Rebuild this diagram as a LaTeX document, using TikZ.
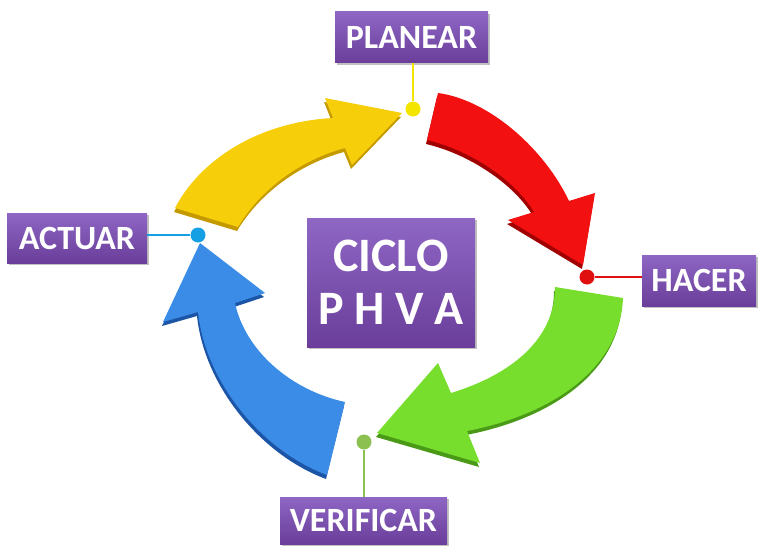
\documentclass[tikz,border=0pt]{standalone}
\usepackage{fontspec}
\setmainfont{Carlito}
\usetikzlibrary{shadows}

\definecolor{boxtop}{HTML}{8E66C4}
\definecolor{boxbot}{HTML}{6A3E9A}
\definecolor{ymain}{HTML}{F6CE0A}
\definecolor{yside}{HTML}{C49A00}
\definecolor{rmain}{HTML}{F21010}
\definecolor{rside}{HTML}{A00000}
\definecolor{gmain}{HTML}{77DE2E}
\definecolor{gside}{HTML}{4A9A18}
\definecolor{bmain}{HTML}{3A8CE6}
\definecolor{bside}{HTML}{1D55A6}
\definecolor{ylink}{HTML}{F3E500}
\definecolor{rlink}{HTML}{E01010}
\definecolor{glink}{HTML}{8CC152}
\definecolor{blink}{HTML}{15A0E4}

\tikzset{
  labelbox/.style={top color=boxtop, bottom color=boxbot, text=white,
    inner sep=0pt, font=\bfseries\fontsize{29}{29}\selectfont,
    drop shadow={opacity=0.35, shadow xshift=0.5mm, shadow yshift=-0.6mm, fill=black!70}},
  linkdot/.style={circle, inner sep=0pt, minimum size={15*0.3mm}},
  linkline/.style={line width=0.7mm},
}

\begin{document}
\begin{tikzpicture}[x=0.3mm, y=-0.3mm]
\useasboundingbox (0,0) rectangle (760,546);

% ---- the four curved arrows, each with a darker extruded side ----
\foreach \dx/\dy/\c in {-1/4/yside, 0/0/ymain}{
  \fill[\c, shift={(\dx,\dy)}]
    (175,208) .. controls (200,160) and (258,122) .. (333,118)
    -- (325,98) -- (402,113) -- (352,165) -- (345,148)
    .. controls (300,160) and (260,190) .. (238,227) -- cycle;
}
\foreach \dx/\dy/\c in {-1/4/rside, 0/0/rmain}{
  \fill[\c, shift={(\dx,\dy)}]
    (438,93) .. controls (490,100) and (545,150) .. (569,201)
    -- (595,193) -- (583,265) -- (508,220) -- (534,212)
    .. controls (515,180) and (470,150) .. (427,140) -- cycle;
}
\foreach \dx/\dy/\c in {-1/4/gside, 0/0/gmain}{
  \fill[\c, shift={(\dx,\dy)}]
    (623,298) .. controls (620,370) and (550,415) .. (467,431)
    -- (480,463) -- (377,433) -- (438,363) -- (451,393)
    .. controls (510,375) and (555,340) .. (555,287) -- cycle;
}
\foreach \dx/\dy/\c in {-1/4/bside, 0/0/bmain}{
  \fill[\c, shift={(\dx,\dy)}]
    (327,475) .. controls (260,450) and (205,380) .. (198,312)
    -- (163,322) -- (200,243) -- (265,293) -- (235,303)
    .. controls (245,350) and (290,390) .. (345,402) -- cycle;
}

% ---- central title ----
\node[labelbox, minimum width={168*0.3mm}, minimum height={129*0.3mm},
      align=center, font=\bfseries\fontsize{41}{45}\selectfont]
  (ciclo) at (391,282.5) {CICLO\\P H V A};

% ---- phase labels ----
\node[labelbox, minimum width={153*0.3mm}, minimum height={51*0.3mm}] (planear) at (411.5,37.5) {PLANEAR};
\node[labelbox, minimum width={140*0.3mm}, minimum height={50*0.3mm}] (actuar) at (77,238) {ACTUAR};
\node[labelbox, minimum width={114*0.3mm}, minimum height={51*0.3mm}] (hacer) at (699,280.5) {HACER};
\node[labelbox, minimum width={167*0.3mm}, minimum height={47*0.3mm}] (verificar) at (363.5,520.5) {VERIFICAR};

% ---- markers and leader lines ----
\node[linkdot, fill=ylink] (dp) at (413,109) {};
\node[linkdot, fill=rlink] (dh) at (587,277) {};
\node[linkdot, fill=glink] (dv) at (364,442) {};
\node[linkdot, fill=blink] (da) at (198,235) {};

\draw[linkline, ylink] (planear.south -| dp) -- (dp);
\draw[linkline, rlink] (hacer.west |- dh) -- (dh);
\draw[linkline, glink] (verificar.north -| dv) -- (dv);
\draw[linkline, blink] (actuar.east |- da) -- (da);
\end{tikzpicture}
\end{document}
